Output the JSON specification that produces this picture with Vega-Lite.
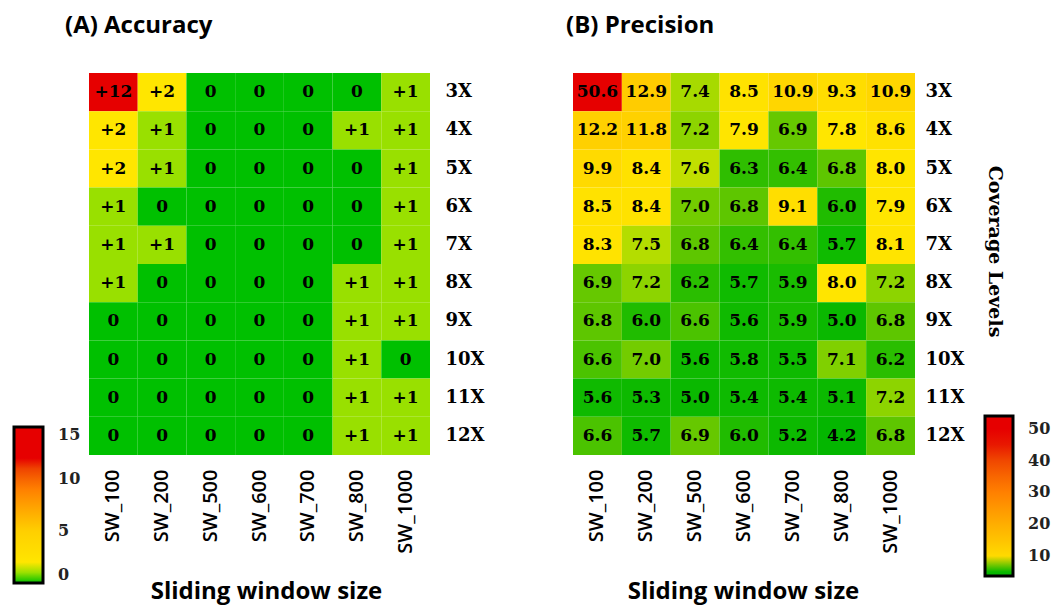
{
  "$schema": "https://vega.github.io/schema/vega-lite/v6.json",
  "background": "white",
  "padding": {"left": 14, "top": 14, "right": 5, "bottom": 5},
  "spacing": 143,
  "bounds": "flush",
  "config": {
    "view": {"stroke": null},
    "axis": {"domain": false, "ticks": false, "grid": false},
    "legend": {
      "orient": "none",
      "direction": "vertical",
      "padding": 0,
      "gradientStrokeColor": "black",
      "gradientStrokeWidth": 3,
      "labelFont": "DejaVu Serif",
      "labelFontWeight": "bold",
      "labelFontSize": 16,
      "labelColor": "#222222",
      "labelBaseline": "middle"
    }
  },
  "datasets": {
    "accuracy": [
      {"cov": "3X", "sw": "SW_100", "v": 12}, {"cov": "3X", "sw": "SW_200", "v": 2}, {"cov": "3X", "sw": "SW_500", "v": 0}, {"cov": "3X", "sw": "SW_600", "v": 0}, {"cov": "3X", "sw": "SW_700", "v": 0}, {"cov": "3X", "sw": "SW_800", "v": 0}, {"cov": "3X", "sw": "SW_1000", "v": 1},
      {"cov": "4X", "sw": "SW_100", "v": 2}, {"cov": "4X", "sw": "SW_200", "v": 1}, {"cov": "4X", "sw": "SW_500", "v": 0}, {"cov": "4X", "sw": "SW_600", "v": 0}, {"cov": "4X", "sw": "SW_700", "v": 0}, {"cov": "4X", "sw": "SW_800", "v": 1}, {"cov": "4X", "sw": "SW_1000", "v": 1},
      {"cov": "5X", "sw": "SW_100", "v": 2}, {"cov": "5X", "sw": "SW_200", "v": 1}, {"cov": "5X", "sw": "SW_500", "v": 0}, {"cov": "5X", "sw": "SW_600", "v": 0}, {"cov": "5X", "sw": "SW_700", "v": 0}, {"cov": "5X", "sw": "SW_800", "v": 0}, {"cov": "5X", "sw": "SW_1000", "v": 1},
      {"cov": "6X", "sw": "SW_100", "v": 1}, {"cov": "6X", "sw": "SW_200", "v": 0}, {"cov": "6X", "sw": "SW_500", "v": 0}, {"cov": "6X", "sw": "SW_600", "v": 0}, {"cov": "6X", "sw": "SW_700", "v": 0}, {"cov": "6X", "sw": "SW_800", "v": 0}, {"cov": "6X", "sw": "SW_1000", "v": 1},
      {"cov": "7X", "sw": "SW_100", "v": 1}, {"cov": "7X", "sw": "SW_200", "v": 1}, {"cov": "7X", "sw": "SW_500", "v": 0}, {"cov": "7X", "sw": "SW_600", "v": 0}, {"cov": "7X", "sw": "SW_700", "v": 0}, {"cov": "7X", "sw": "SW_800", "v": 0}, {"cov": "7X", "sw": "SW_1000", "v": 1},
      {"cov": "8X", "sw": "SW_100", "v": 1}, {"cov": "8X", "sw": "SW_200", "v": 0}, {"cov": "8X", "sw": "SW_500", "v": 0}, {"cov": "8X", "sw": "SW_600", "v": 0}, {"cov": "8X", "sw": "SW_700", "v": 0}, {"cov": "8X", "sw": "SW_800", "v": 1}, {"cov": "8X", "sw": "SW_1000", "v": 1},
      {"cov": "9X", "sw": "SW_100", "v": 0}, {"cov": "9X", "sw": "SW_200", "v": 0}, {"cov": "9X", "sw": "SW_500", "v": 0}, {"cov": "9X", "sw": "SW_600", "v": 0}, {"cov": "9X", "sw": "SW_700", "v": 0}, {"cov": "9X", "sw": "SW_800", "v": 1}, {"cov": "9X", "sw": "SW_1000", "v": 1},
      {"cov": "10X", "sw": "SW_100", "v": 0}, {"cov": "10X", "sw": "SW_200", "v": 0}, {"cov": "10X", "sw": "SW_500", "v": 0}, {"cov": "10X", "sw": "SW_600", "v": 0}, {"cov": "10X", "sw": "SW_700", "v": 0}, {"cov": "10X", "sw": "SW_800", "v": 1}, {"cov": "10X", "sw": "SW_1000", "v": 0},
      {"cov": "11X", "sw": "SW_100", "v": 0}, {"cov": "11X", "sw": "SW_200", "v": 0}, {"cov": "11X", "sw": "SW_500", "v": 0}, {"cov": "11X", "sw": "SW_600", "v": 0}, {"cov": "11X", "sw": "SW_700", "v": 0}, {"cov": "11X", "sw": "SW_800", "v": 1}, {"cov": "11X", "sw": "SW_1000", "v": 1},
      {"cov": "12X", "sw": "SW_100", "v": 0}, {"cov": "12X", "sw": "SW_200", "v": 0}, {"cov": "12X", "sw": "SW_500", "v": 0}, {"cov": "12X", "sw": "SW_600", "v": 0}, {"cov": "12X", "sw": "SW_700", "v": 0}, {"cov": "12X", "sw": "SW_800", "v": 1}, {"cov": "12X", "sw": "SW_1000", "v": 1}
    ],
    "precision": [
      {"cov": "3X", "sw": "SW_100", "v": 50.6}, {"cov": "3X", "sw": "SW_200", "v": 12.9}, {"cov": "3X", "sw": "SW_500", "v": 7.4}, {"cov": "3X", "sw": "SW_600", "v": 8.5}, {"cov": "3X", "sw": "SW_700", "v": 10.9}, {"cov": "3X", "sw": "SW_800", "v": 9.3}, {"cov": "3X", "sw": "SW_1000", "v": 10.9},
      {"cov": "4X", "sw": "SW_100", "v": 12.2}, {"cov": "4X", "sw": "SW_200", "v": 11.8}, {"cov": "4X", "sw": "SW_500", "v": 7.2}, {"cov": "4X", "sw": "SW_600", "v": 7.9}, {"cov": "4X", "sw": "SW_700", "v": 6.9}, {"cov": "4X", "sw": "SW_800", "v": 7.8}, {"cov": "4X", "sw": "SW_1000", "v": 8.6},
      {"cov": "5X", "sw": "SW_100", "v": 9.9}, {"cov": "5X", "sw": "SW_200", "v": 8.4}, {"cov": "5X", "sw": "SW_500", "v": 7.6}, {"cov": "5X", "sw": "SW_600", "v": 6.3}, {"cov": "5X", "sw": "SW_700", "v": 6.4}, {"cov": "5X", "sw": "SW_800", "v": 6.8}, {"cov": "5X", "sw": "SW_1000", "v": 8.0},
      {"cov": "6X", "sw": "SW_100", "v": 8.5}, {"cov": "6X", "sw": "SW_200", "v": 8.4}, {"cov": "6X", "sw": "SW_500", "v": 7.0}, {"cov": "6X", "sw": "SW_600", "v": 6.8}, {"cov": "6X", "sw": "SW_700", "v": 9.1}, {"cov": "6X", "sw": "SW_800", "v": 6.0}, {"cov": "6X", "sw": "SW_1000", "v": 7.9},
      {"cov": "7X", "sw": "SW_100", "v": 8.3}, {"cov": "7X", "sw": "SW_200", "v": 7.5}, {"cov": "7X", "sw": "SW_500", "v": 6.8}, {"cov": "7X", "sw": "SW_600", "v": 6.4}, {"cov": "7X", "sw": "SW_700", "v": 6.4}, {"cov": "7X", "sw": "SW_800", "v": 5.7}, {"cov": "7X", "sw": "SW_1000", "v": 8.1},
      {"cov": "8X", "sw": "SW_100", "v": 6.9}, {"cov": "8X", "sw": "SW_200", "v": 7.2}, {"cov": "8X", "sw": "SW_500", "v": 6.2}, {"cov": "8X", "sw": "SW_600", "v": 5.7}, {"cov": "8X", "sw": "SW_700", "v": 5.9}, {"cov": "8X", "sw": "SW_800", "v": 8.0}, {"cov": "8X", "sw": "SW_1000", "v": 7.2},
      {"cov": "9X", "sw": "SW_100", "v": 6.8}, {"cov": "9X", "sw": "SW_200", "v": 6.0}, {"cov": "9X", "sw": "SW_500", "v": 6.6}, {"cov": "9X", "sw": "SW_600", "v": 5.6}, {"cov": "9X", "sw": "SW_700", "v": 5.9}, {"cov": "9X", "sw": "SW_800", "v": 5.0}, {"cov": "9X", "sw": "SW_1000", "v": 6.8},
      {"cov": "10X", "sw": "SW_100", "v": 6.6}, {"cov": "10X", "sw": "SW_200", "v": 7.0}, {"cov": "10X", "sw": "SW_500", "v": 5.6}, {"cov": "10X", "sw": "SW_600", "v": 5.8}, {"cov": "10X", "sw": "SW_700", "v": 5.5}, {"cov": "10X", "sw": "SW_800", "v": 7.1}, {"cov": "10X", "sw": "SW_1000", "v": 6.2},
      {"cov": "11X", "sw": "SW_100", "v": 5.6}, {"cov": "11X", "sw": "SW_200", "v": 5.3}, {"cov": "11X", "sw": "SW_500", "v": 5.0}, {"cov": "11X", "sw": "SW_600", "v": 5.4}, {"cov": "11X", "sw": "SW_700", "v": 5.4}, {"cov": "11X", "sw": "SW_800", "v": 5.1}, {"cov": "11X", "sw": "SW_1000", "v": 7.2},
      {"cov": "12X", "sw": "SW_100", "v": 6.6}, {"cov": "12X", "sw": "SW_200", "v": 5.7}, {"cov": "12X", "sw": "SW_500", "v": 6.9}, {"cov": "12X", "sw": "SW_600", "v": 6.0}, {"cov": "12X", "sw": "SW_700", "v": 5.2}, {"cov": "12X", "sw": "SW_800", "v": 4.2}, {"cov": "12X", "sw": "SW_1000", "v": 6.8}
    ]
  },
  "hconcat": [
    {
      "width": 341,
      "height": 382,
      "data": {"name": "accuracy"},
      "title": {"text": "(A) Accuracy", "anchor": "start", "frame": "group", "dx": -24, "offset": 16, "baseline": "alphabetic", "font": "Open Sans", "fontSize": 24, "fontWeight": "bold", "color": "black"},
      "encoding": {
        "x": {
          "field": "sw", "type": "nominal",
          "sort": ["SW_100", "SW_200", "SW_500", "SW_600", "SW_700", "SW_800", "SW_1000"],
          "axis": {"orient": "bottom", "labelAngle": -90, "labelFont": "Open Sans", "labelFontWeight": 600, "labelFontSize": 20, "labelColor": "black", "labelPadding": 14, "title": "Sliding window size", "titleFont": "Open Sans", "titleFontSize": 24, "titleFontWeight": "bold", "titleColor": "black", "titlePadding": 26, "titleX": 177}
        },
        "y": {
          "field": "cov", "type": "nominal",
          "sort": ["3X", "4X", "5X", "6X", "7X", "8X", "9X", "10X", "11X", "12X"],
          "axis": {"orient": "right", "labelFont": "DejaVu Serif", "labelFontWeight": "bold", "labelFontSize": 18, "labelColor": "black", "labelPadding": 15, "labelAlign": "left", "title": null}
        }
      },
      "layer": [
        {
          "mark": {"type": "rect"},
          "encoding": {
            "color": {
              "field": "v", "type": "quantitative",
              "scale": {"domain": [0, 1, 2, 5, 9, 12, 15], "range": ["#00c000", "#99e000", "#ffe600", "#ffcf00", "#ff8000", "#e60000", "#e60000"]},
              "legend": {"legendX": -75, "legendY": 354, "gradientLength": 156, "gradientThickness": 29, "labelOffset": 15, "values": [0, 5, 10, 15], "title": null}
            }
          }
        },
        {
          "mark": {"type": "text", "font": "DejaVu Serif", "fontWeight": "bold", "fontSize": 17, "color": "black"},
          "encoding": {
            "text": {"condition": {"test": "datum.v > 0", "field": "v", "format": "+d"}, "field": "v", "format": "d"}
          }
        }
      ]
    },
    {
      "width": 342,
      "height": 382,
      "data": {"name": "precision"},
      "title": {"text": "(B) Precision", "anchor": "start", "frame": "group", "dx": -7, "offset": 16, "baseline": "alphabetic", "font": "Open Sans", "fontSize": 24, "fontWeight": "bold", "color": "black"},
      "encoding": {
        "x": {
          "field": "sw", "type": "nominal",
          "sort": ["SW_100", "SW_200", "SW_500", "SW_600", "SW_700", "SW_800", "SW_1000"],
          "axis": {"orient": "bottom", "labelAngle": -90, "labelFont": "Open Sans", "labelFontWeight": 600, "labelFontSize": 20, "labelColor": "black", "labelPadding": 14, "title": "Sliding window size", "titleFont": "Open Sans", "titleFontSize": 24, "titleFontWeight": "bold", "titleColor": "black", "titlePadding": 26, "titleX": 170}
        },
        "y": {
          "field": "cov", "type": "nominal",
          "sort": ["3X", "4X", "5X", "6X", "7X", "8X", "9X", "10X", "11X", "12X"],
          "axis": {"orient": "right", "labelFont": "DejaVu Serif", "labelFontWeight": "bold", "labelFontSize": 18, "labelColor": "black", "labelPadding": 10, "labelAlign": "left", "title": "Coverage Levels", "titleAngle": 90, "titleFont": "DejaVu Serif", "titleFontWeight": "bold", "titleFontSize": 19, "titleColor": "black", "titlePadding": 20, "titleY": 178}
        }
      },
      "layer": [
        {
          "mark": {"type": "rect"},
          "encoding": {
            "color": {
              "field": "v", "type": "quantitative",
              "scale": {"domain": [3.7, 5.8, 6.4, 6.9, 7.3, 7.65, 7.8, 9.5, 13, 30, 46, 54], "range": ["#00b400", "#10bb00", "#33bf00", "#66c800", "#99d800", "#c8e000", "#ffe600", "#ffdc00", "#ffcc00", "#ff8000", "#e60000", "#e60000"]},
              "legend": {"legendX": 412, "legendY": 343, "gradientLength": 160, "gradientThickness": 28, "labelOffset": 15, "values": [10, 20, 30, 40, 50], "title": null}
            }
          }
        },
        {
          "mark": {"type": "text", "font": "DejaVu Serif", "fontWeight": "bold", "fontSize": 17, "color": "black"},
          "encoding": {
            "text": {"field": "v", "type": "quantitative", "format": ".1f"}
          }
        }
      ]
    }
  ],
  "resolve": {"scale": {"color": "independent"}}
}
